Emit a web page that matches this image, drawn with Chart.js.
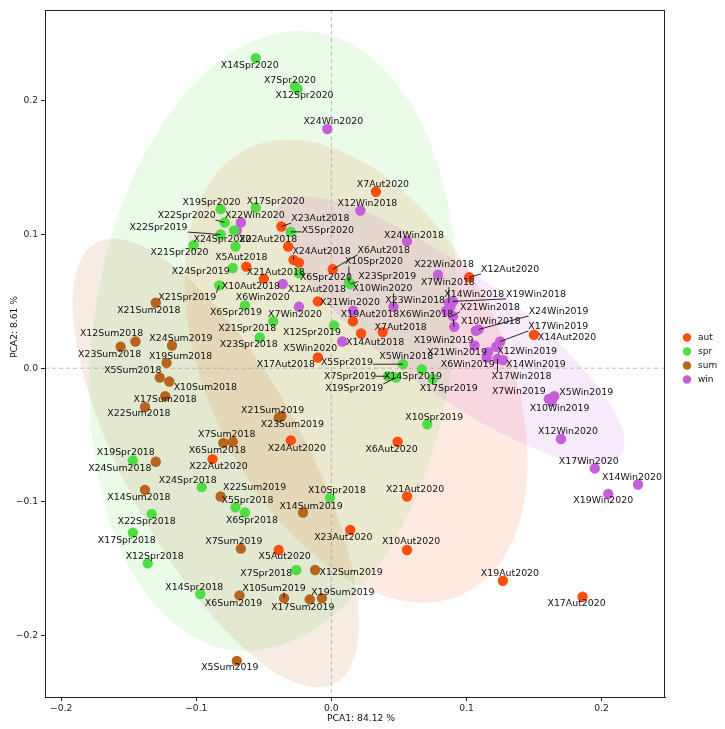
<!DOCTYPE html>
<html>
<head>
<meta charset="utf-8">
<script src="https://cdn.jsdelivr.net/npm/chart.js@4.4.1/dist/chart.umd.min.js"></script>
<style>
  html, body { margin: 0; padding: 0; background: #fff; }
</style>
</head>
<body>
<canvas id="pca" width="725" height="729"></canvas>
<script>
// Gruppen
const groups = ['aut', 'spr', 'sum', 'win'];
const groupColors = ['#ff4f0f', '#4fdc45', '#b5651d', '#c45fd9'];
const ellipseColors = ['rgba(255,79,15,0.12)', 'rgba(79,220,69,0.12)', 'rgba(181,101,29,0.12)', 'rgba(196,95,217,0.13)'];
const ellipseStd = [1.85, 2.2, 2.2, 1.75];

const axisTitleX = 'PCA1: 84.12 %';
const axisTitleY = 'PCA2: 8.61 %';
const tickValuesX = [-0.2, -0.1, 0.0, 0.1, 0.2];
const tickValuesY = [-0.2, -0.1, 0.0, 0.1, 0.2];

// Herbst
const autNames = ['X5Aut2018','X6Aut2018','X7Aut2018','X10Aut2018','X12Aut2018','X14Aut2018','X17Aut2018','X19Aut2018','X21Aut2018','X22Aut2018','X23Aut2018','X24Aut2018',
  'X5Aut2020','X6Aut2020','X7Aut2020','X10Aut2020','X12Aut2020','X14Aut2020','X17Aut2020','X19Aut2020','X21Aut2020','X22Aut2020','X23Aut2020','X24Aut2020'];
const autX = [-0.063, 0.001, 0.038, -0.024, -0.010, 0.022, -0.010, 0.016, -0.050, -0.032, -0.037, -0.028,
  -0.039, 0.049, 0.033, 0.056, 0.102, 0.150, 0.186, 0.127, 0.056, -0.088, 0.014, -0.030];
const autY = [0.076, 0.074, 0.027, 0.079, 0.050, 0.026, 0.008, 0.035, 0.067, 0.091, 0.106, 0.081,
  -0.136, -0.055, 0.132, -0.136, 0.068, 0.025, -0.171, -0.159, -0.096, -0.068, -0.121, -0.054];

// Frühling
const sprNames = ['X5Spr2018','X6Spr2018','X7Spr2018','X10Spr2018','X12Spr2018','X14Spr2018','X17Spr2018','X19Spr2018','X21Spr2018','X22Spr2018','X23Spr2018','X24Spr2018',
  'X5Spr2019','X6Spr2019','X7Spr2019','X10Spr2019','X12Spr2019','X14Spr2019','X17Spr2019','X19Spr2019','X21Spr2019','X22Spr2019','X23Spr2019','X24Spr2019',
  'X5Spr2020','X6Spr2020','X7Spr2020','X10Spr2020','X12Spr2020','X14Spr2020','X17Spr2020','X19Spr2020','X21Spr2020','X22Spr2020','X23Spr2020','X24Spr2020'];
const sprX = [-0.071, -0.064, -0.026, -0.001, -0.136, -0.097, -0.147, -0.147, -0.043, -0.133, -0.053, -0.096,
  0.053, -0.064, 0.042, 0.071, 0.002, 0.067, 0.075, 0.048, -0.083, -0.082, 0.014, -0.073,
  -0.030, -0.024, -0.027, 0.013, -0.025, -0.056, -0.056, -0.082, -0.102, -0.079, -0.072, -0.071];
const sprY = [-0.104, -0.108, -0.151, -0.097, -0.146, -0.169, -0.123, -0.069, 0.035, -0.109, 0.023, -0.089,
  0.003, 0.047, -0.006, -0.042, 0.032, -0.001, -0.008, -0.007, 0.062, 0.100, 0.063, 0.075,
  0.102, 0.071, 0.211, 0.064, 0.209, 0.232, 0.120, 0.119, 0.092, 0.109, 0.103, 0.091];

// Sommer
const sumNames = ['X5Sum2018','X6Sum2018','X7Sum2018','X10Sum2018','X12Sum2018','X14Sum2018','X17Sum2018','X19Sum2018','X21Sum2018','X22Sum2018','X23Sum2018','X24Sum2018',
  'X5Sum2019','X6Sum2019','X7Sum2019','X10Sum2019','X12Sum2019','X14Sum2019','X17Sum2019','X19Sum2019','X21Sum2019','X22Sum2019','X23Sum2019','X24Sum2019'];
const sumX = [-0.127, -0.080, -0.073, -0.120, -0.145, -0.138, -0.123, -0.122, -0.130, -0.138, -0.156, -0.130,
  -0.070, -0.068, -0.067, -0.035, -0.012, -0.021, -0.016, -0.007, -0.039, -0.082, -0.037, -0.118];
const sumY = [-0.007, -0.056, -0.055, -0.010, 0.020, -0.091, -0.021, 0.004, 0.049, -0.029, 0.016, -0.070,
  -0.219, -0.170, -0.135, -0.172, -0.151, -0.108, -0.173, -0.172, -0.037, -0.096, -0.036, 0.017];

// Winter
const winNames = ['X5Win2018','X6Win2018','X7Win2018','X10Win2018','X12Win2018','X14Win2018','X17Win2018','X19Win2018','X21Win2018','X22Win2018','X23Win2018','X24Win2018',
  'X5Win2019','X6Win2019','X7Win2019','X10Win2019','X12Win2019','X14Win2019','X17Win2019','X19Win2019','X21Win2019','X24Win2019',
  'X5Win2020','X6Win2020','X7Win2020','X10Win2020','X12Win2020','X14Win2020','X17Win2020','X19Win2020','X21Win2020','X22Win2020','X23Win2020','X24Win2020'];
const winX = [0.088, 0.091, 0.087, 0.107, 0.0215, 0.088, 0.123, 0.090, 0.090, 0.079, 0.085, 0.056,
  0.165, 0.115, 0.161, 0.163, 0.122, 0.127, 0.125, 0.106, 0.116, 0.109,
  0.008, -0.036, -0.024, 0.046, 0.170, 0.227, 0.195, 0.205, 0.016, -0.067, -0.070, -0.003];
const winY = [0.047, 0.031, 0.049, 0.028, 0.118, 0.046, 0.007, 0.050, 0.039, 0.070, 0.043, 0.095,
  -0.021, 0.008, -0.023, -0.025, 0.016, 0.006, 0.020, 0.017, 0.012, 0.029,
  0.020, 0.063, 0.046, 0.046, -0.053, -0.087, -0.075, -0.094, 0.043, 0.109, 0.103, 0.179];

// Beschriftungen: Versatz des Textes zum Punkt in Pixeln (null = verdeckt)
const autLabelOff = [[-5,-9],[51,-19],[18,-5],[-48,24],[-1,-12],[14,9],[-32,7],[17,-7],[12,-6],[-20,-7],[39,-8],[28,-8],
  [6,7],[-6,8],[7,-7],[4,-8],[41,-8],[33,3],[-6,7],[7,-7],[8,-7],[6,7],[-7,8],[6,8]];
const sprLabelOff = [[12,-7],[7,8],[-30,4],[7,-7],[7,-7],[-6,-7],[-6,8],[-7,-8],[-26,7],[-5,8],[-11,7],[-14,-7],
  [-56,-2],[-9,7],[-38,0],[7,-7],[-22,7],[-9,7],[16,10],[-42,11],[-32,12],[-62,-7],[37,-7],[-32,4],
  [37,-1],[27,4],[-5,-6],[25,-21],[7,7],[-6,7],[20,-6],[-9,-7],[-14,7],[-38,-7],null,[-13,-7]];
const sumLabelOff = [[-27,-7],[-6,8],[-6,-7],[36,6],[-24,-8],[-6,8],[0,3],[14,-6],[-7,8],[-6,7],[-11,8],[-36,7],
  [-7,7],[-6,8],[-7,-7],[-10,-10],[36,3],[8,-6],[-7,8],[21,-6],[-6,-7],[34,-9],[11,8],[9,-7]];
const winLabelOff = [[-44,51],[-28,-12],[-1,-20],[15,-9],[7,-7],[24,-12],[24,18],[83,-7],[37,-9],[6,-10],[-31,-10],[7,-6],
  [32,-4],[-19,7],[-30,-7],[8,7],[31,5],[33,4],[58,-15],[-31,-5],[-31,0],[80,-18],
  [-32,7],[-20,14],[-4,8],[-11,-18],[7,-7],[-6,-7],[-6,-7],[-5,7],[-3,-8],[14,-7],null,[6,-7]];

const leaderNames = ['X6Aut2018','X23Aut2018','X24Aut2018','X12Aut2020','X5Spr2019','X7Spr2019','X17Spr2019','X19Spr2019',
  'X21Spr2019','X22Spr2019','X23Spr2019','X5Spr2020','X10Spr2020','X22Spr2020','X10Sum2019','X6Win2018','X7Win2018',
  'X17Win2018','X19Win2018','X21Win2018','X17Win2019','X19Win2019','X24Win2019','X10Win2020'];

const seriesX = [autX, sprX, sumX, winX];
const seriesY = [autY, sprY, sumY, winY];
const seriesNames = [autNames, sprNames, sumNames, winNames];
const seriesOff = [autLabelOff, sprLabelOff, sumLabelOff, winLabelOff];

const FONT = 'DejaVu Sans';

const datasets = groups.map((g, i) => ({
  label: g,
  data: seriesX[i].map((v, j) => ({ x: v, y: seriesY[i][j] })),
  backgroundColor: groupColors[i],
  borderWidth: 0,
  pointRadius: 5.2,
  pointHoverRadius: 5.2
}));

// Ellipsen aus Kovarianz
const ellipsePlugin = {
  id: 'ellipses',
  beforeDatasetsDraw(chart) {
    const { ctx, chartArea, scales } = chart;
    ctx.save();
    ctx.beginPath();
    ctx.rect(chartArea.left, chartArea.top, chartArea.width, chartArea.height);
    ctx.clip();
    chart.data.datasets.forEach((ds, i) => {
      const k = ellipseStd[i];
      const pts = ds.data;
      const n = pts.length;
      const mx = pts.reduce((s, p) => s + p.x, 0) / n;
      const my = pts.reduce((s, p) => s + p.y, 0) / n;
      let sxx = 0, syy = 0, sxy = 0;
      pts.forEach(p => {
        sxx += (p.x - mx) ** 2;
        syy += (p.y - my) ** 2;
        sxy += (p.x - mx) * (p.y - my);
      });
      sxx /= (n - 1); syy /= (n - 1); sxy /= (n - 1);
      const tr = sxx + syy, det = sxx * syy - sxy * sxy;
      const disc = Math.sqrt(Math.max(tr * tr / 4 - det, 0));
      const l1 = tr / 2 + disc, l2 = tr / 2 - disc;
      const ang = Math.atan2(l1 - sxx, sxy);
      const r1 = k * Math.sqrt(l1), r2 = k * Math.sqrt(Math.max(l2, 0));
      ctx.beginPath();
      for (let s = 0; s <= 120; s++) {
        const t = s / 120 * Math.PI * 2;
        const a = r1 * Math.cos(t), b = r2 * Math.sin(t);
        const vx = mx + a * Math.cos(ang) - b * Math.sin(ang);
        const vy = my + a * Math.sin(ang) + b * Math.cos(ang);
        const px = scales.x.getPixelForValue(vx), py = scales.y.getPixelForValue(vy);
        if (s === 0) ctx.moveTo(px, py); else ctx.lineTo(px, py);
      }
      ctx.closePath();
      ctx.fillStyle = ellipseColors[i];
      ctx.fill();
    });
    // Nulllinien
    ctx.strokeStyle = '#aaaaaa';
    ctx.lineWidth = 0.8;
    ctx.setLineDash([4, 3]);
    const x0 = scales.x.getPixelForValue(0), y0 = scales.y.getPixelForValue(0);
    ctx.beginPath();
    ctx.moveTo(x0, chartArea.top); ctx.lineTo(x0, chartArea.bottom);
    ctx.moveTo(chartArea.left, y0); ctx.lineTo(chartArea.right, y0);
    ctx.stroke();
    ctx.restore();
  }
};

// Punktbeschriftungen, Rahmen, Achsentitel, Legende
const labelPlugin = {
  id: 'pointLabels',
  afterDatasetsDraw(chart) {
    const { ctx } = chart;
    ctx.save();
    ctx.font = '9.4px "' + FONT + '"';
    ctx.textAlign = 'center';
    ctx.textBaseline = 'middle';
    chart.data.datasets.forEach((ds, i) => {
      const meta = chart.getDatasetMeta(i);
      meta.data.forEach((el, j) => {
        const off = seriesOff[i][j];
        if (!off) return;
        const name = seriesNames[i][j];
        const lx = el.x + off[0], ly = el.y + off[1];
        if (leaderNames.includes(name)) {
          const hw = ctx.measureText(name).width / 2, hh = 4.5;
          const cx = Math.min(Math.max(el.x, lx - hw), lx + hw);
          const cy = Math.min(Math.max(el.y, ly - hh), ly + hh);
          ctx.strokeStyle = '#111';
          ctx.lineWidth = 0.9;
          ctx.beginPath();
          ctx.moveTo(el.x, el.y);
          ctx.lineTo(cx, cy);
          ctx.stroke();
        }
        ctx.fillStyle = '#111';
        ctx.fillText(name, lx, ly);
      });
    });
    ctx.restore();
  },
  afterDraw(chart) {
    const { ctx, chartArea } = chart;
    ctx.save();
    ctx.strokeStyle = '#222';
    ctx.lineWidth = 1;
    ctx.strokeRect(chartArea.left + 0.5, chartArea.top + 0.5, chartArea.width - 1, chartArea.height);
    ctx.fillStyle = '#111';
    ctx.font = '9.2px "' + FONT + '"';
    ctx.textAlign = 'center';
    ctx.textBaseline = 'middle';
    ctx.fillText(axisTitleX, chartArea.left + chartArea.width / 2 + 6, 719);
    ctx.translate(15, 327);
    ctx.rotate(-Math.PI / 2);
    ctx.fillText(axisTitleY, 0, 0);
    ctx.restore();

    // Legende
    ctx.save();
    ctx.font = '9px "' + FONT + '"';
    ctx.textBaseline = 'middle';
    ctx.textAlign = 'left';
    groups.forEach((g, i) => {
      const yy = 337.5 + i * 14;
      ctx.fillStyle = groupColors[i];
      ctx.beginPath();
      ctx.arc(687, yy, 4.2, 0, Math.PI * 2);
      ctx.fill();
      ctx.fillStyle = '#111';
      ctx.fillText(g, 698, yy);
    });
    ctx.restore();
  }
};

const fmtTick = v => (v < 0 ? '\u2212' : '') + Math.abs(v).toFixed(1);

new Chart(document.getElementById('pca').getContext('2d'), {
  type: 'scatter',
  data: { datasets },
  options: {
    responsive: false,
    animation: false,
    devicePixelRatio: 1,
    layout: { padding: { top: 10, right: 60, left: 0, bottom: 0 } },
    plugins: { legend: { display: false }, tooltip: { enabled: false } },
    scales: {
      x: {
        type: 'linear', min: -0.212, max: 0.247,
        afterBuildTicks: s => { s.ticks = tickValuesX.map(v => ({ value: v })); },
        afterFit: s => { s.height = 32; },
        grid: { drawOnChartArea: false, drawTicks: true, tickLength: 4, color: '#222' },
        border: { display: true, color: '#222' },
        ticks: { font: { family: FONT, size: 9.2 }, color: '#222', padding: 2, callback: fmtTick, maxRotation: 0 }
      },
      y: {
        type: 'linear', min: -0.246, max: 0.268,
        afterBuildTicks: s => { s.ticks = tickValuesY.map(v => ({ value: v })); },
        afterFit: s => { s.width = 45; },
        grid: { drawOnChartArea: false, drawTicks: true, tickLength: 4, color: '#222' },
        border: { display: true, color: '#222' },
        ticks: { font: { family: FONT, size: 9.2 }, color: '#222', padding: 3, callback: fmtTick }
      }
    }
  },
  plugins: [ellipsePlugin, labelPlugin]
});
</script>
</body>
</html>
